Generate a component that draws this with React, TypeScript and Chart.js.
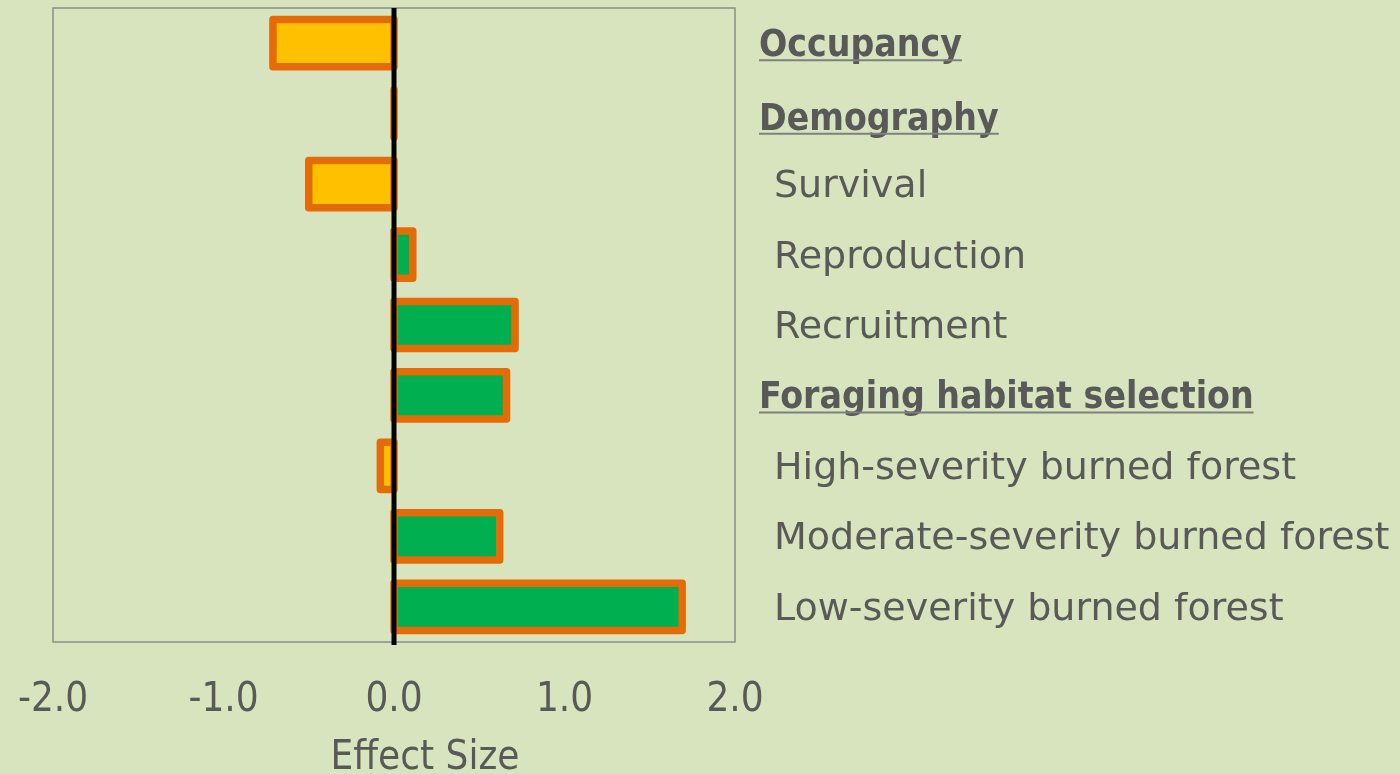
import React, { useEffect, useRef } from "react";
import { Chart, registerables } from "chart.js";

Chart.register(...registerables);

const categories = [
  "Occupancy",
  "Demography",
  "Survival",
  "Reproduction",
  "Recruitment",
  "Foraging habitat selection",
  "High-severity burned forest",
  "Moderate-severity burned forest",
  "Low-severity burned forest",
];
const headerFlags = [true, true, false, false, false, true, false, false, false];
const effectSizes = [-0.71, 0.0, -0.5, 0.11, 0.71, 0.66, -0.08, 0.62, 1.69];
const xTicks = [-2, -1, 0, 1, 2];
const axisTitle = "Effect Size";

const BG = "#D7E4BD";
const TEXT = "#595959";
const NEG_FILL = "#FFC000";
const POS_FILL = "#00B050";
const OUTLINE = "#E36C09";
const BOX = "#8C8C8C";

export default function App() {
  const ref = useRef<HTMLCanvasElement | null>(null);

  useEffect(() => {
    document.body.style.margin = "0";
    document.body.style.background = BG;
    const canvas = ref.current;
    if (!canvas) return;

    const decor = {
      id: "decor",
      beforeDatasetsDraw(chart: any) {
        const { ctx, chartArea } = chart;
        ctx.save();
        ctx.strokeStyle = BOX;
        ctx.lineWidth = 1.5;
        ctx.strokeRect(
          chartArea.left,
          chartArea.top,
          chartArea.right - chartArea.left,
          chartArea.bottom - chartArea.top
        );
        ctx.restore();
      },
      afterDatasetsDraw(chart: any) {
        const { ctx, chartArea } = chart;
        const meta = chart.getDatasetMeta(0);
        ctx.save();
        ctx.strokeStyle = OUTLINE;
        ctx.lineWidth = 7.5;
        ctx.lineJoin = "round";
        meta.data.forEach((el: any) => {
          const p = el.getProps(["x", "y", "base", "height"], true);
          const left = Math.min(p.x, p.base);
          const right = Math.max(p.x, p.base);
          const top = p.y - p.height / 2;
          const bottom = p.y + p.height / 2;
          ctx.beginPath();
          ctx.moveTo(left, top);
          ctx.lineTo(right, top);
          ctx.lineTo(right, bottom);
          ctx.lineTo(left, bottom);
          ctx.closePath();
          ctx.stroke();
        });
        const zx = chart.scales.x.getPixelForValue(0);
        ctx.strokeStyle = "#000000";
        ctx.lineWidth = 5;
        ctx.beginPath();
        ctx.moveTo(zx, chartArea.top);
        ctx.lineTo(zx, chartArea.bottom + 3);
        ctx.stroke();
        ctx.restore();
      },
      afterDraw(chart: any) {
        const { ctx, chartArea } = chart;
        const yScale = chart.scales.y;
        ctx.save();
        ctx.textBaseline = "alphabetic";
        ctx.textAlign = "left";
        categories.forEach((label, i) => {
          const cy = yScale.getPixelForValue(i);
          const isHeader = headerFlags[i];
          const baseline = cy + 13 + (i === 1 ? 3 : 0);
          if (isHeader) {
            ctx.font = "bold 37px 'DejaVu Sans Condensed', 'DejaVu Sans'";
            ctx.fillStyle = TEXT;
            const x = 759;
            ctx.fillText(label, x, baseline);
            const w = ctx.measureText(label).width;
            ctx.strokeStyle = "#7F7F7F";
            ctx.lineWidth = 2;
            ctx.beginPath();
            ctx.moveTo(x, baseline + 4);
            ctx.lineTo(x + w, baseline + 4);
            ctx.stroke();
          } else {
            ctx.font = "38px 'DejaVu Sans'";
            ctx.fillStyle = TEXT;
            ctx.fillText(label, 774, baseline);
          }
        });
        ctx.font = "40px 'DejaVu Sans Condensed', 'DejaVu Sans'";
        ctx.textAlign = "center";
        ctx.fillStyle = TEXT;
        const cx = (chartArea.left + chartArea.right) / 2 + 31;
        ctx.fillText(axisTitle, cx, 769);
        ctx.restore();
      },
    };

    const chart = new Chart(canvas, {
      type: "bar",
      data: {
        labels: categories,
        datasets: [
          {
            data: effectSizes,
            backgroundColor: effectSizes.map((v) => (v < 0 ? NEG_FILL : POS_FILL)),
            borderWidth: 0,
            barPercentage: 0.67,
            categoryPercentage: 1,
          },
        ],
      },
      options: {
        indexAxis: "y",
        animation: false,
        responsive: true,
        maintainAspectRatio: false,
        layout: { padding: { left: 53, right: 665, top: 8, bottom: 0 } },
        plugins: {
          legend: { display: false },
          tooltip: { enabled: false },
        },
        scales: {
          x: {
            type: "linear",
            min: xTicks[0],
            max: xTicks[xTicks.length - 1],
            afterBuildTicks: (scale: any) => {
              scale.ticks = xTicks.map((v) => ({ value: v }));
            },
            afterFit: (scale: any) => {
              scale.height = 132;
              scale.paddingLeft = 0;
              scale.paddingRight = 0;
            },
            grid: { display: false, drawTicks: false },
            border: { display: false },
            ticks: {
              padding: 35,
              color: TEXT,
              font: { family: "'DejaVu Sans Condensed', 'DejaVu Sans'", size: 40, lineHeight: 1.2 },
              callback: (v: any) => Number(v).toFixed(1),
              maxRotation: 0,
            },
            title: { display: false },
          },
          y: {
            type: "category",
            display: false,
            offset: true,
          },
        },
      },
      plugins: [decor],
    });

    return () => chart.destroy();
  }, []);

  return (
    <div style={{ width: 1400, height: 774, position: "relative" }}>
      <canvas ref={ref} />
    </div>
  );
}
